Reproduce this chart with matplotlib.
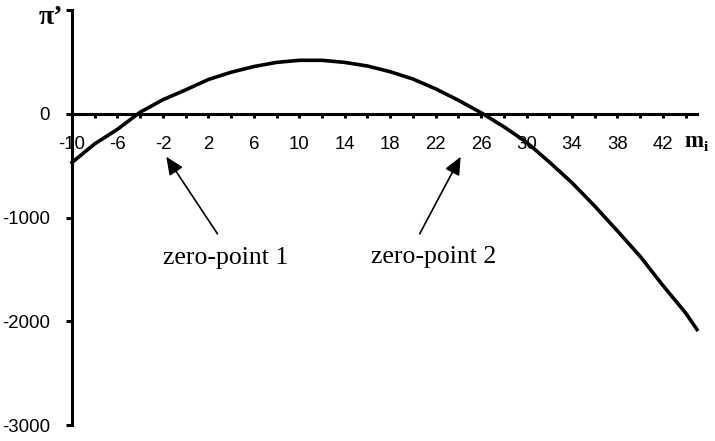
import numpy as np
import matplotlib.pyplot as plt

# profit derivative pi' against m_i
m_vals = [-10, -8, -6, -4, -2, 0, 2, 4, 6, 8, 10, 12, 14, 16, 18,
          20, 22, 24, 26, 28, 30, 32, 34, 36, 38, 40, 42, 44, 45]
pi_vals = [-470, -290, -150, 15, 135, 230, 330, 400, 455, 495, 515, 515,
           495, 460, 405, 335, 240, 130, 10, -125, -275, -465, -665, -890,
           -1130, -1375, -1655, -1920, -2080]

x_ticks = list(range(-10, 45, 2))
x_labels = [str(t) if (t + 10) % 4 == 0 else "" for t in x_ticks]
y_ticks = [-3000, -2000, -1000, 0, 1000]
y_labels = ["-3000", "-2000", "-1000", "0", ""]

# zero crossings: (arrow tip, arrow tail, label position, label)
notes = [((-1.7, -414), (2.8, -1157), (3.5, -1390), "zero-point 1"),
         ((24.2, -414), (20.6, -1157), (21.8, -1380), "zero-point 2")]

fig = plt.figure(figsize=(7.15, 4.41), dpi=100)
ax = fig.add_axes([72 / 715, 16 / 441, 625 / 715, 415 / 441])

ax.plot(m_vals, pi_vals, color="black", lw=2.6, solid_joinstyle="round",
        clip_on=False)

ax.set_xlim(-10, 45)
ax.set_ylim(-3000, 1000)

for side in ("top", "right"):
    ax.spines[side].set_visible(False)
ax.spines["bottom"].set_position(("data", 0))
ax.spines["bottom"].set_linewidth(2.2)
ax.spines["left"].set_linewidth(2.2)

ax.set_xticks(x_ticks)
ax.set_xticklabels(x_labels, family="Liberation Sans", fontsize=13.4)
ax.set_yticks(y_ticks)
ax.set_yticklabels(y_labels, family="Liberation Sans", fontsize=13.4)
ax.tick_params(axis="x", direction="out", length=3, width=2.2, pad=13)
ax.tick_params(axis="y", direction="out", length=4.3, width=2.2, pad=11.5)

for tip, tail, pos, text in notes:
    ax.annotate("", xy=tip, xytext=tail,
                arrowprops=dict(arrowstyle="-|>,head_length=0.9,head_width=0.4",
                                color="black", lw=1.2, mutation_scale=12,
                                shrinkA=0, shrinkB=0))
    ax.text(pos[0], pos[1], text, family="Liberation Serif", fontsize=18.5,
            ha="center", va="center")

# axis titles
fig.text(39 / 715, 1 - 24 / 441, "π’", family="Liberation Serif",
         fontweight="bold", fontsize=20, ha="left", va="baseline")
fig.text(684 / 715, 1 - 147 / 441, "m", family="Liberation Serif",
         fontweight="bold", fontsize=16.5, ha="left", va="baseline")
fig.text(704 / 715, 1 - 151 / 441, "i", family="Liberation Serif",
         fontweight="bold", fontsize=11, ha="left", va="baseline")

fig.savefig("out.png", dpi=100)
